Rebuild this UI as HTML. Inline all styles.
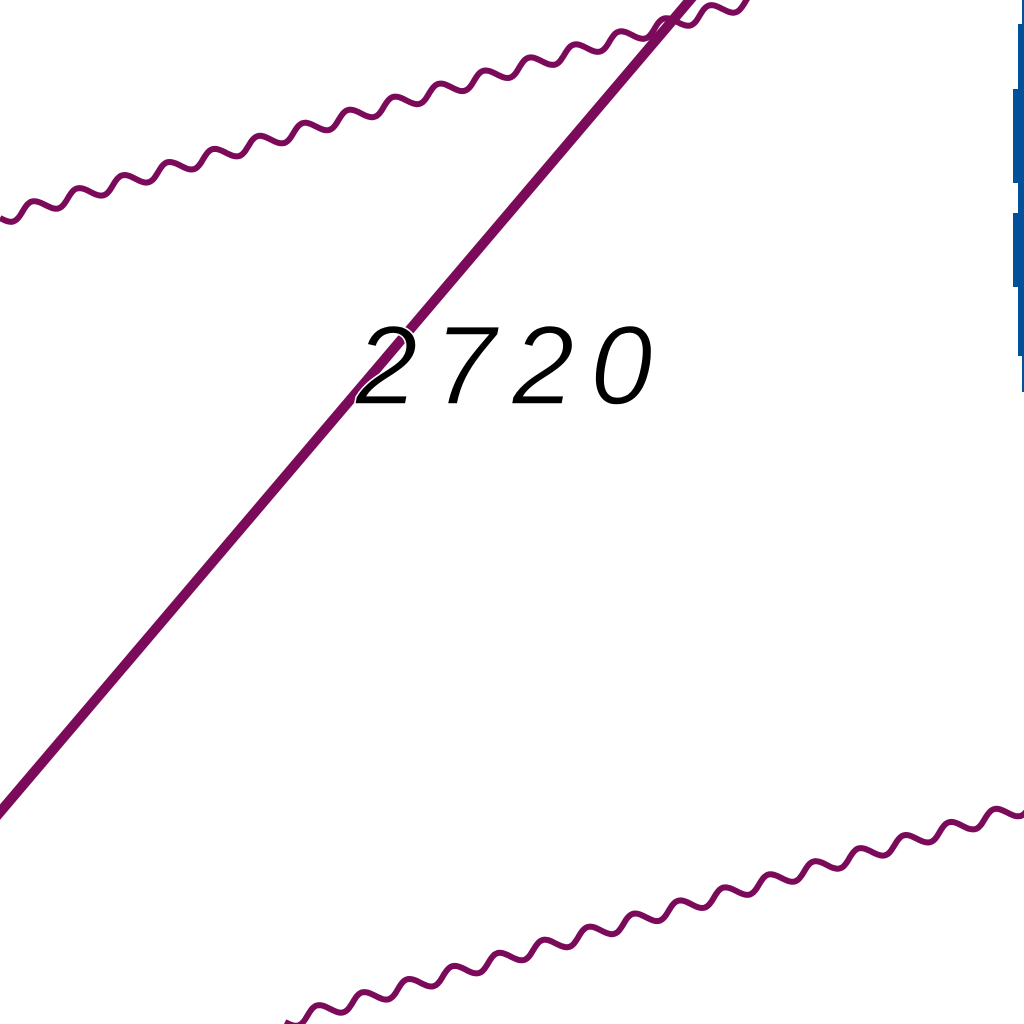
<!DOCTYPE html>
<html><head><meta charset="utf-8"><style>
html,body{margin:0;padding:0;background:#fff;width:1024px;height:1024px;overflow:hidden}
svg{display:block}
</style></head><body>
<svg id="map" width="1024" height="1024" viewBox="0 0 1024 1024">
<rect width="1024" height="1024" fill="#fff"/>
<g id="lines"></g>
<line x1="-5" y1="818" x2="695" y2="-6" stroke="#7b0a5a" stroke-width="10"/>
<text x="512" y="404" font-family="Liberation Sans, sans-serif" font-style="italic" font-size="112" text-anchor="middle" fill="#000" letter-spacing="16" stroke="#fff" stroke-width="1.5" paint-order="normal">2720</text>
<g fill="#00509a">
<rect x="1018" y="24" width="6" height="332"/>
<rect x="1013" y="89" width="11" height="94"/>
<rect x="1013" y="213" width="11" height="74"/>
<rect x="1022" y="0" width="2" height="392"/>
</g>
</svg>
<script>
// wavy contour lines: start/end points
const waveStarts = [[0,218],[285,1022]];
const waveEnds = [[760,-2],[1030,806]];
const g = document.getElementById('lines');
for (let i = 0; i < waveStarts.length; i++) {
  const [x0,y0] = waveStarts[i], [x1,y1] = waveEnds[i];
  const len = Math.hypot(x1-x0, y1-y0);
  const ux = (x1-x0)/len, uy = (y1-y0)/len, nx = -uy, ny = ux;
  let d = '';
  for (let s = 0; s <= len; s += 2) {
    const off = 7*Math.sin(s/47*2*Math.PI);
    const x = x0+ux*s+nx*off, y = y0+uy*s+ny*off;
    d += (s===0?'M':'L')+x.toFixed(1)+' '+y.toFixed(1);
  }
  const p = document.createElementNS('http://www.w3.org/2000/svg','path');
  p.setAttribute('d', d);
  p.setAttribute('fill','none');
  p.setAttribute('stroke','#7b0a5a');
  p.setAttribute('stroke-width','6');
  
  
  g.appendChild(p);
}
</script>
</body></html>
